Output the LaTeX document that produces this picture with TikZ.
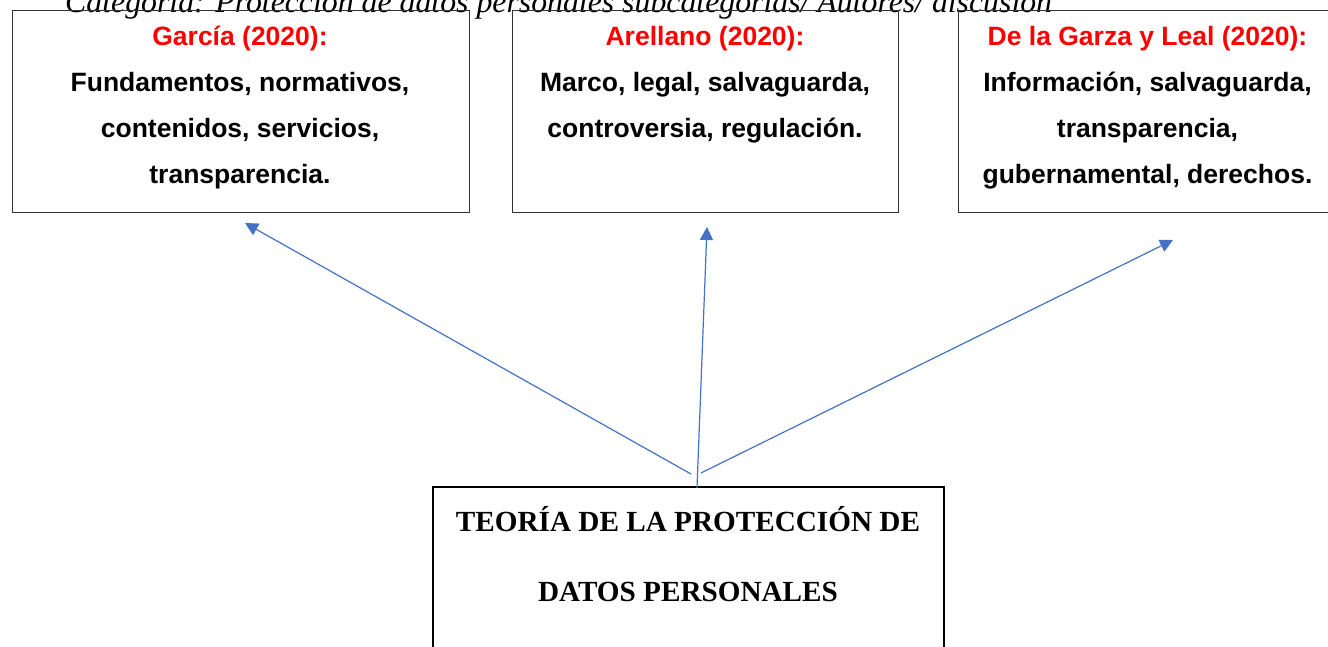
\documentclass[tikz,border=0pt]{standalone}
\usepackage{fontspec}
\setmainfont{Liberation Serif}
\newfontfamily\arialfont{Liberation Sans}
\usetikzlibrary{arrows.meta}
\definecolor{arrowblue}{RGB}{68,114,196}
\definecolor{boxgray}{RGB}{50,50,50}
\definecolor{authred}{RGB}{255,0,0}
\tikzset{
  topbox/.style={draw=boxgray, line width=1.3pt, anchor=north west, inner sep=0pt},
  mainbox/.style={draw=black, line width=2.4pt, anchor=north west, inner sep=0pt},
  authline/.style={anchor=base, inner sep=0pt, text=authred, font=\arialfont\bfseries\fontsize{26.5}{30}\selectfont},
  kwline/.style={anchor=base, inner sep=0pt, text=black, font=\arialfont\bfseries\fontsize{26.5}{30}\selectfont},
  titleline/.style={anchor=base, inner sep=0pt, font=\bfseries\fontsize{29.2}{34}\selectfont},
  caption/.style={anchor=base west, inner sep=0pt, font=\itshape\fontsize{31.8}{38}\selectfont},
  link/.style={draw=arrowblue, line width=1.2pt, -{Triangle[length=13pt,width=13pt]}}
}
\begin{document}
\begin{tikzpicture}[x=1pt,y=-1pt]
\useasboundingbox (0,0) rectangle (1328,646);
\clip (0,0) rectangle (1328,646);
\fill[white] (0,0) rectangle (1328,646);

\node[caption] (cap) at (65,12) {Categoría: Protección de datos personales subcategorías/ Autores/ discusión};

% top boxes
\node[topbox, minimum width=457pt, minimum height=202pt] (b1) at (12,10) {};
\node[topbox, minimum width=386pt, minimum height=202pt] (b2) at (512,10) {};
\node[topbox, minimum width=400pt, minimum height=202pt] (b3) at (958,10) {};

% box 1 text
\node[authline] (g0) at (240,45.5) {García (2020):};
\node[kwline] (g1) at (240,91) {Fundamentos, normativos,};
\node[kwline] (g2) at (240,137) {contenidos, servicios,};
\node[kwline] (g3) at (240,183) {transparencia.};

% box 2 text
\node[authline] (r0) at (705,45.5) {Arellano (2020):};
\node[kwline] (r1) at (705,91) {Marco, legal, salvaguarda,};
\node[kwline] (r2) at (705,137) {controversia, regulación.};

% box 3 text
\node[authline] (d0) at (1147.5,45.5) {De la Garza y Leal (2020):};
\node[kwline] (d1) at (1147.5,91) {Información, salvaguarda,};
\node[kwline] (d2) at (1147.5,137) {transparencia,};
\node[kwline] (d3) at (1147.5,183) {gubernamental, derechos.};

% bottom box
\node[mainbox, minimum width=511pt, minimum height=200pt] (main) at (432,486) {};
\node[titleline] (t1) at (688,531) {TEORÍA DE LA PROTECCIÓN DE};
\node[titleline] (t2) at (688,601) {DATOS PERSONALES};

% connector ends
\coordinate (s1) at (691,474);
\coordinate (s2) at (697,488);
\coordinate (s3) at (701,473);
\coordinate (e1) at (245,223);
\coordinate (e2) at (707,227);
\coordinate (e3) at (1173,240);

\draw[link] (s1) -- (e1);
\draw[link] (s2) -- (e2);
\draw[link] (s3) -- (e3);
\end{tikzpicture}
\end{document}
